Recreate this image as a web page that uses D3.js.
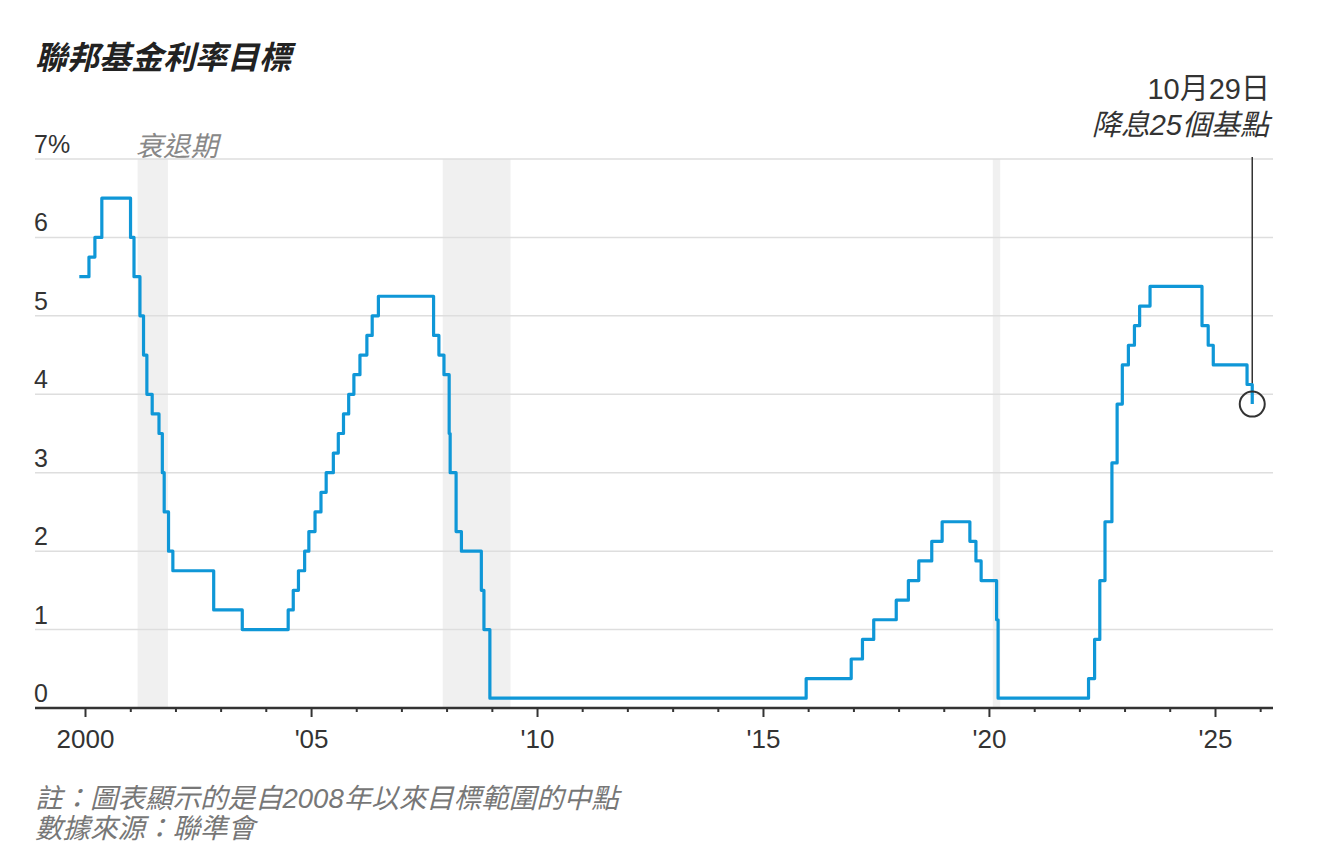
<!DOCTYPE html>
<html>
<head>
<meta charset="utf-8">
<script src="https://cdn.jsdelivr.net/npm/d3@7"></script>
<style>
  html, body { margin: 0; padding: 0; background: #fff; }
  svg { display: block; }
  text { font-family: "Liberation Sans", "Noto Sans CJK TC", "Noto Sans", sans-serif; }
</style>
</head>
<body>
<svg id="chart" width="1328" height="864"></svg>
<script>
// ---- Data ----
const changeDates = [
  "1999-11-16","2000-02-02","2000-03-21","2000-05-16",
  "2001-01-03","2001-01-31","2001-03-20","2001-04-18","2001-05-15","2001-06-27",
  "2001-08-21","2001-09-17","2001-10-02","2001-11-06","2001-12-11",
  "2002-11-06","2003-06-25",
  "2004-06-30","2004-08-10","2004-09-21","2004-11-10","2004-12-14",
  "2005-02-02","2005-03-22","2005-05-03","2005-06-30","2005-08-09","2005-09-20","2005-11-01","2005-12-13",
  "2006-01-31","2006-03-28","2006-05-10","2006-06-29",
  "2007-09-18","2007-10-31","2007-12-11",
  "2008-01-22","2008-01-30","2008-03-18","2008-04-30","2008-10-08","2008-10-29","2008-12-16",
  "2015-12-16","2016-12-14",
  "2017-03-15","2017-06-14","2017-12-13",
  "2018-03-21","2018-06-13","2018-09-26","2018-12-19",
  "2019-07-31","2019-09-18","2019-10-30",
  "2020-03-03","2020-03-15",
  "2022-03-16","2022-05-04","2022-06-15","2022-07-27","2022-09-21","2022-11-02","2022-12-14",
  "2023-02-01","2023-03-22","2023-05-03","2023-07-26",
  "2024-09-18","2024-11-07","2024-12-18",
  "2025-09-17","2025-10-29"
];
const targetRates = [
  5.5, 5.75, 6.0, 6.5,
  6.0, 5.5, 5.0, 4.5, 4.0, 3.75,
  3.5, 3.0, 2.5, 2.0, 1.75,
  1.25, 1.0,
  1.25, 1.5, 1.75, 2.0, 2.25,
  2.5, 2.75, 3.0, 3.25, 3.5, 3.75, 4.0, 4.25,
  4.5, 4.75, 5.0, 5.25,
  4.75, 4.5, 4.25,
  3.5, 3.0, 2.25, 2.0, 1.5, 1.0, 0.125,
  0.375, 0.625,
  0.875, 1.125, 1.375,
  1.625, 1.875, 2.125, 2.375,
  2.125, 1.875, 1.625,
  1.125, 0.125,
  0.375, 0.875, 1.625, 2.375, 3.125, 3.875, 4.375,
  4.625, 4.875, 5.125, 5.375,
  4.875, 4.625, 4.375,
  4.125, 3.875
];
const recessionStarts = ["2001-03-01", "2007-12-01", "2020-02-01"];
const recessionEnds   = ["2001-11-01", "2009-06-01", "2020-04-01"];
const yTickValues = [0, 1, 2, 3, 4, 5, 6, 7];
const yTickLabels = ["0", "1", "2", "3", "4", "5", "6", "7%"];
const xMajorYears = [2000, 2005, 2010, 2015, 2020, 2025];
const xMajorLabels = ["2000", "'05", "'10", "'15", "'20", "'25"];
const xMinorYears = d3.range(2000, 2027);

const titleText = "聯邦基金利率目標";
const recessionLabel = "衰退期";
const annotationDate = "10月29日";
const annotationText = "降息25個基點";
const noteLines = ["註：圖表顯示的是自2008年以來目標範圍的中點", "數據來源：聯準會"];

// ---- Scales ----
const parse = d3.utcParse("%Y-%m-%d");
const data = changeDates.map((d, i) => ({ date: parse(d), rate: targetRates[i] }));

const x = d3.scaleUtc()
  .domain([new Date(Date.UTC(2000, 0, 1)), new Date(Date.UTC(2025, 0, 1))])
  .range([85, 1215]);
const y = d3.scaleLinear().domain([0, 7]).range([708, 159]);

const plotLeft = 35, plotRight = 1273;

const svg = d3.select("#chart");

// Title
svg.append("text")
  .attr("x", 35).attr("y", 69)
  .attr("font-size", 32).attr("font-weight", "bold").attr("font-style", "italic")
  .attr("fill", "#222")
  .text(titleText);

// Recession shading
recessionStarts.forEach((s, i) => {
  const x0 = x(parse(s)), x1 = x(parse(recessionEnds[i]));
  svg.append("rect")
    .attr("x", x0).attr("y", y(7))
    .attr("width", x1 - x0).attr("height", y(0) - y(7))
    .attr("fill", "#f0f0f0");
});

// Gridlines
svg.append("g").selectAll("line")
  .data(yTickValues.filter(v => v > 0))
  .join("line")
  .attr("x1", plotLeft).attr("x2", plotRight)
  .attr("y1", d => y(d)).attr("y2", d => y(d))
  .attr("stroke", "#dedede").attr("stroke-width", 1.5);

// Y labels
svg.append("g").selectAll("text")
  .data(yTickValues)
  .join("text")
  .attr("x", 34).attr("y", d => y(d) - 6)
  .attr("font-size", 25).attr("fill", "#333")
  .text((d, i) => yTickLabels[i]);

// Recession label
svg.append("text")
  .attr("x", x(parse(recessionStarts[0])) - 2).attr("y", 156)
  .attr("font-size", 27.5).attr("font-style", "italic").attr("fill", "#888")
  .text(recessionLabel);

// Annotation vertical line
const last = data[data.length - 1];
const ax = x(last.date), ay = y(last.rate);
svg.append("line")
  .attr("x1", ax).attr("x2", ax).attr("y1", 157).attr("y2", ay)
  .attr("stroke", "#333").attr("stroke-width", 1.5);

// Step line
const line = d3.line()
  .x(d => x(d.date)).y(d => y(d.rate))
  .curve(d3.curveStepAfter);
svg.append("path")
  .datum(data)
  .attr("d", line)
  .attr("fill", "none")
  .attr("stroke", "#0f97d7")
  .attr("stroke-width", 3.2)
  .attr("stroke-linejoin", "round")
  .attr("stroke-linecap", "butt");

// Annotation circle
svg.append("circle")
  .attr("cx", ax).attr("cy", ay).attr("r", 12.5)
  .attr("fill", "none").attr("stroke", "#333").attr("stroke-width", 2);

// Annotation text
svg.append("text")
  .attr("x", 1270).attr("y", 99).attr("text-anchor", "end")
  .attr("font-size", 29).attr("fill", "#333")
  .text(annotationDate);
svg.append("text")
  .attr("x", 1269).attr("y", 135).attr("text-anchor", "end")
  .attr("font-size", 29).attr("font-style", "italic").attr("fill", "#333")
  .text(annotationText);

// X axis
const axisY = y(0);
svg.append("line")
  .attr("x1", plotLeft).attr("x2", plotRight)
  .attr("y1", axisY).attr("y2", axisY)
  .attr("stroke", "#333").attr("stroke-width", 2.5);

const xAxisMinor = d3.axisBottom(x)
  .tickValues(xMinorYears.filter(yr => !xMajorYears.includes(yr)).map(yr => new Date(Date.UTC(yr, 0, 1))))
  .tickSize(4).tickFormat("");
const gMinor = svg.append("g").attr("transform", `translate(0,${axisY})`).call(xAxisMinor);
gMinor.select(".domain").remove();
gMinor.selectAll(".tick line").attr("stroke", "#333").attr("stroke-width", 2);

const xAxisMajor = d3.axisBottom(x)
  .tickValues(xMajorYears.map(yr => new Date(Date.UTC(yr, 0, 1))))
  .tickSize(9).tickPadding(0)
  .tickFormat((d, i) => xMajorLabels[i]);
const gMajor = svg.append("g").attr("transform", `translate(0,${axisY})`).call(xAxisMajor);
gMajor.select(".domain").remove();
gMajor.selectAll(".tick line").attr("stroke", "#333").attr("stroke-width", 2);
gMajor.selectAll(".tick text")
  .attr("font-family", "'Liberation Sans', 'Noto Sans CJK TC', sans-serif")
  .attr("font-size", 26).attr("fill", "#333")
  .attr("dy", null).attr("y", 40);

// Notes
noteLines.forEach((t, i) => {
  svg.append("text")
    .attr("x", 35).attr("y", 808 + i * 30)
    .attr("font-size", 27.5).attr("font-style", "italic").attr("fill", "#777")
    .text(t);
});
</script>
</body>
</html>
